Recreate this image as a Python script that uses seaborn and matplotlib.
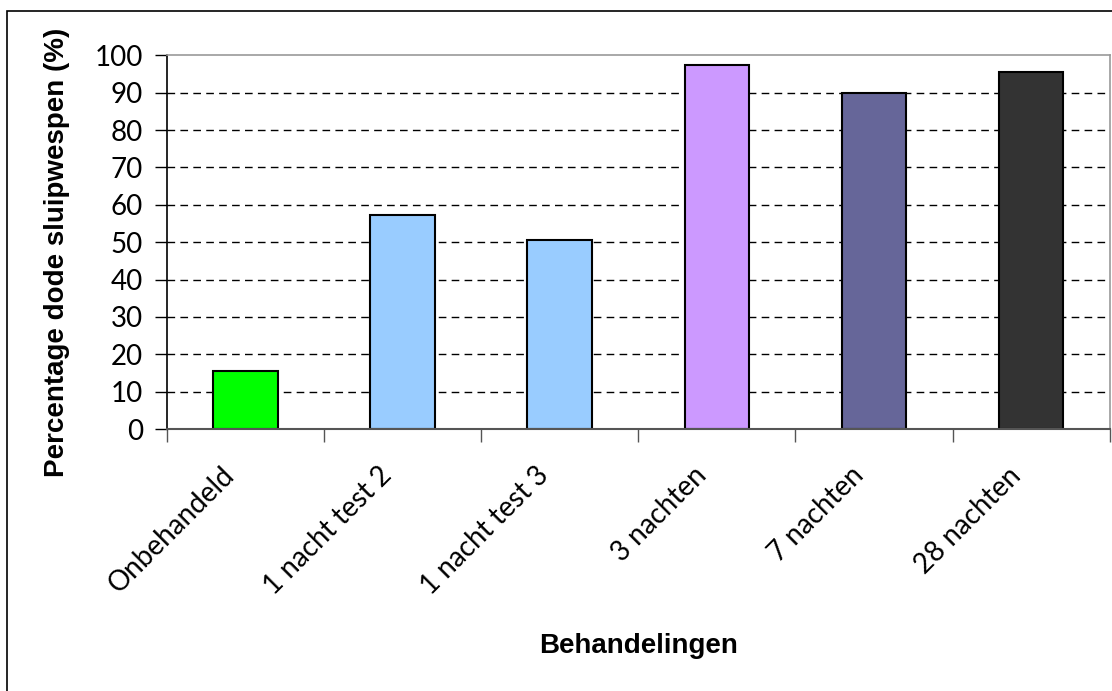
import matplotlib
matplotlib.use("Agg")
import matplotlib.pyplot as plt
import matplotlib.transforms as mtransforms
import seaborn as sns
import numpy as np
from matplotlib.patches import Rectangle

# Data
categories = ["Onbehandeld", "1 nacht test 2", "1 nacht test 3", "3 nachten", "7 nachten", "28 nachten"]
values = [15.5, 57.3, 50.7, 97.5, 90.0, 95.5]
colors = ["#00FF00", "#99CCFF", "#99CCFF", "#CC99FF", "#666699", "#333333"]
y_ticks = list(range(0, 101, 10))

sns.set_style("white")
plt.rcParams["font.family"] = ["Lato", "DejaVu Sans"]
plt.rcParams["text.color"] = "black"
plt.rcParams["axes.labelcolor"] = "black"
plt.rcParams["xtick.color"] = "black"
plt.rcParams["ytick.color"] = "black"

fig = plt.figure(figsize=(11.12, 6.91), dpi=100)
ax = fig.add_axes([0.150, 0.379, 0.848, 0.541])

sns.barplot(x=categories, y=values, hue=categories, palette=colors, legend=False,
            width=0.41, edgecolor="black", linewidth=1.5, saturation=1, ax=ax)

ax.set_xlim(-0.5, len(categories) - 0.5)
ax.set_ylim(0, 100)
ax.set_yticks(y_ticks)
ax.set_yticklabels([str(t) for t in y_ticks], fontsize=20)
ax.tick_params(axis="y", direction="out", length=9, width=1, color="black", pad=8, left=True)

# ticks between categories, labels under bars
ax.set_xticks(np.arange(-0.5, len(categories), 1.0))
ax.set_xticklabels([])
ax.tick_params(axis="x", which="major", direction="out", length=9, width=1, color="#555555", bottom=True)
ax.set_xticks(np.arange(len(categories)), minor=True)
ax.set_xticklabels(categories, minor=True, rotation=45, ha="right", rotation_mode="anchor", fontsize=20)
ax.tick_params(axis="x", which="minor", length=0, pad=24)
shift = mtransforms.ScaledTranslation(-24 / 100, 0, fig.dpi_scale_trans)
for lbl in ax.get_xticklabels(minor=True):
    lbl.set_transform(lbl.get_transform() + shift)

for t in y_ticks[1:-1]:
    ax.axhline(t, color="black", linestyle=(0, (5.5, 3.8)), linewidth=1, zorder=0)

for side in ["top", "right"]:
    ax.spines[side].set_color("#999999")
    ax.spines[side].set_linewidth(1.2)
ax.spines["left"].set_color("black")
ax.spines["bottom"].set_color("#555555")
ax.spines["left"].set_linewidth(1.2)
ax.spines["bottom"].set_linewidth(1.5)

ax.set_xlabel("Behandelingen", fontsize=20, fontweight="bold", family="Liberation Sans")
ax.set_ylabel("Percentage dode sluipwespen (%)", fontsize=20, fontweight="bold", family="Liberation Sans")
ax.xaxis.set_label_coords(0.5, -0.545)
ax.yaxis.set_label_coords(-0.103, 0.473)

# outer chart border (left and top visible)
fig.patches.append(Rectangle((7 / 1112, -0.1), 1.2, 1 - 11 / 691 + 0.1, transform=fig.transFigure,
                             fill=False, edgecolor="black", linewidth=1.2))

plt.savefig("out.png", dpi=100)
plt.close()
